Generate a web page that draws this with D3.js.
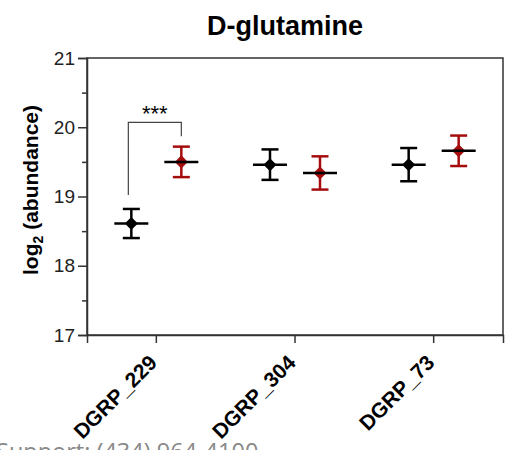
<!DOCTYPE html>
<html><head><meta charset="utf-8">
<script src="https://cdn.jsdelivr.net/npm/d3@7"></script>
<style>body{margin:0;background:#fff}svg{display:block}</style>
</head><body>
<script>
const categories = ["DGRP_229", "DGRP_304", "DGRP_73"];
const seriesNames = ["A", "B"];
const seriesColors = ["#000000", "#a50d0d"];
const meansA = [18.61, 19.46, 19.46];
const errA = [0.21, 0.22, 0.24];
const meansB = [19.50, 19.34, 19.66];
const errB = [0.22, 0.24, 0.22];
const yTicks = [17, 18, 19, 20, 21];
const yMinor = [17.5, 18.5, 19.5, 20.5];
const title = "D-glutamine";
const sig = [{cat: "DGRP_229", label: "***"}];

const FONT = "Arial, 'Liberation Sans', sans-serif";
const W = 508, H = 450;
const m = {left: 87, right: 5, top: 58, bottom: 115};
const svg = d3.select("body").append("svg").attr("width", W).attr("height", H);
const x = d3.scaleBand().domain(categories).range([m.left, W - m.right]);
const y = d3.scaleLinear().domain([17, 21]).range([H - m.bottom, m.top]);
const off = 25;
const axisCol = "#333";

// frame
svg.append("rect").attr("x", m.left).attr("y", m.top)
  .attr("width", W - m.right - m.left).attr("height", H - m.bottom - m.top)
  .attr("fill", "none").attr("stroke", axisCol).attr("stroke-width", 1.5);

// y axis
const yAx = svg.append("g").attr("transform", `translate(${m.left},0)`)
  .call(d3.axisLeft(y).tickValues(yTicks).tickSize(9).tickPadding(3).tickFormat(d3.format("d")));
yAx.select(".domain").attr("stroke", axisCol).attr("stroke-width", 1.5);
yAx.selectAll(".tick line").attr("stroke", axisCol).attr("stroke-width", 1.5);
yAx.selectAll(".tick text").attr("font-family", FONT).attr("font-size", 19).attr("fill", "#222");
const yMin = svg.append("g").attr("transform", `translate(${m.left},0)`)
  .call(d3.axisLeft(y).tickValues(yMinor).tickSize(5).tickFormat(""));
yMin.select(".domain").remove();
yMin.selectAll(".tick line").attr("stroke", axisCol).attr("stroke-width", 1.5);

// x axis
const xAx = svg.append("g").attr("transform", `translate(0,${H - m.bottom})`)
  .call(d3.axisBottom(x).tickSize(8).tickPadding(6));
xAx.select(".domain").attr("stroke", axisCol).attr("stroke-width", 1.5);
xAx.selectAll(".tick line").attr("stroke", axisCol).attr("stroke-width", 1.5);
xAx.selectAll(".tick text")
  .attr("font-family", FONT).attr("font-size", 21).attr("font-weight", "bold")
  .attr("fill", "#000")
  .attr("text-anchor", "end").attr("dy", null).attr("y", 0)
  .attr("transform", "translate(2,29) rotate(-45)");

// data points
const series = [
  {name: seriesNames[0], color: seriesColors[0], means: meansA, err: errA, dx: -off},
  {name: seriesNames[1], color: seriesColors[1], means: meansB, err: errB, dx: off}
];
series.forEach(s => {
  const g = svg.append("g");
  categories.forEach((c, i) => {
    const cx = x(c) + x.bandwidth() / 2 + s.dx;
    const mv = s.means[i], e = s.err[i];
    g.append("line").attr("x1", cx).attr("x2", cx).attr("y1", y(mv - e)).attr("y2", y(mv + e))
      .attr("stroke", s.color).attr("stroke-width", 2.5);
    [mv - e, mv + e].forEach(v => g.append("line").attr("x1", cx - 8.5).attr("x2", cx + 8.5)
      .attr("y1", y(v)).attr("y2", y(v)).attr("stroke", s.color).attr("stroke-width", 2.5));
    g.append("path").attr("d", d3.symbol(d3.symbolSquare, 85)())
      .attr("transform", `translate(${cx},${y(mv)}) rotate(45)`).attr("fill", s.color);
    g.append("line").attr("x1", cx - 17).attr("x2", cx + 17).attr("y1", y(mv)).attr("y2", y(mv))
      .attr("stroke", "#000").attr("stroke-width", 2.5);
  });
});

// significance bracket
sig.forEach(sg => {
  const xl = x(sg.cat) + x.bandwidth() / 2 - off - 3;
  const xr = x(sg.cat) + x.bandwidth() / 2 + off;
  const top = y(20.07);
  svg.append("path")
    .attr("d", `M${xl},${y(19.02)}V${top}H${xr}V${y(19.87)}`)
    .attr("fill", "none").attr("stroke", "#444").attr("stroke-width", 1.2);
  svg.append("text").attr("x", (xl + xr) / 2).attr("y", top - 1)
    .attr("text-anchor", "middle").attr("font-family", FONT)
    .attr("font-size", 22).attr("fill", "#000").text(sg.label);
});

// title
svg.append("text").attr("x", 285).attr("y", 35).attr("text-anchor", "middle")
  .attr("font-family", FONT).attr("font-weight", "bold").attr("font-size", 27)
  .text(title);

// y label
const yl = svg.append("text").attr("transform", `translate(38,190) rotate(-90)`)
  .attr("text-anchor", "middle").attr("font-family", FONT)
  .attr("font-weight", "bold").attr("font-size", 21);
yl.append("tspan").text("log");
yl.append("tspan").attr("font-size", 14).attr("dy", 5).text("2");
yl.append("tspan").attr("dy", -5).text(" (abundance)");

// clipped footer text
svg.append("text").attr("x", -4).attr("y", 460).attr("font-family", "'Open Sans', sans-serif")
  .attr("font-size", 23.5).attr("fill", "#888").text("Support: (434) 964-4100");
</script>
</body></html>
